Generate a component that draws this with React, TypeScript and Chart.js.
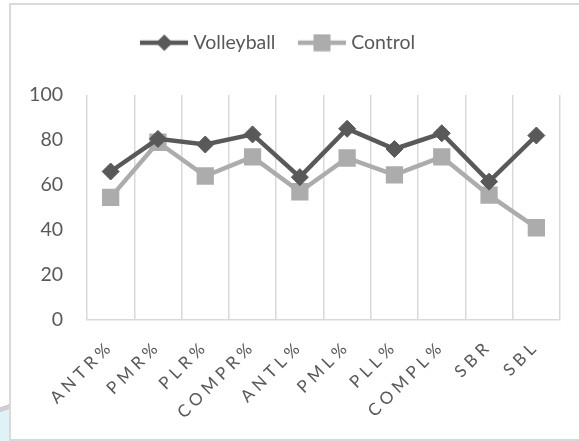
import React, { useEffect, useRef } from 'react';
import { Chart, registerables, CategoryScale } from 'chart.js';

Chart.register(...registerables);

const LETTER_SPACING = '4.5px';

class SpacedCategoryScale extends CategoryScale {
  static id = 'spacedCategory';
  static defaults = (CategoryScale as any).defaults;
  drawLabels(chartArea: any) {
    const ctx: any = (this as any).ctx;
    const prev = ctx.letterSpacing;
    ctx.letterSpacing = LETTER_SPACING;
    // @ts-ignore
    super.drawLabels(chartArea);
    ctx.letterSpacing = prev || '0px';
  }
}
Chart.register(SpacedCategoryScale as any);

const categories = ['ANTR%', 'PMR%', 'PLR%', 'COMPR%', 'ANTL%', 'PML%', 'PLL%', 'COMPL%', 'SBR', 'SBL'];
const volleyball = [66, 80.5, 78, 82.5, 63.5, 85, 76, 83, 61.5, 82];
const control = [54.5, 79, 64, 72.5, 57, 72, 64.5, 72.5, 55.5, 41];
const yTicks = [0, 20, 40, 60, 80, 100];

const VB_COLOR = '#595959';
const CT_COLOR = '#acacac';
const FONT = 'Lato';

function makeLegendIcon(color: string, marker: 'diamond' | 'square') {
  const c = document.createElement('canvas');
  c.width = 48;
  c.height = 18;
  const g = c.getContext('2d')!;
  g.strokeStyle = color;
  g.fillStyle = color;
  g.lineWidth = 4.5;
  g.beginPath();
  g.moveTo(0, 9);
  g.lineTo(48, 9);
  g.stroke();
  if (marker === 'diamond') {
    g.beginPath();
    g.moveTo(24, 0.7);
    g.lineTo(32.3, 9);
    g.lineTo(24, 17.3);
    g.lineTo(15.7, 9);
    g.closePath();
    g.fill();
  } else {
    g.fillRect(15.5, 0.5, 17, 17);
  }
  return c;
}

export default function App() {
  const ref = useRef<HTMLCanvasElement>(null);

  useEffect(() => {
    if (!ref.current) return;
    const icons = [makeLegendIcon(VB_COLOR, 'diamond'), makeLegendIcon(CT_COLOR, 'square')];
    const chart = new Chart(ref.current, {
      type: 'line',
      data: {
        labels: categories,
        datasets: [
          {
            label: 'Volleyball',
            data: volleyball,
            borderColor: VB_COLOR,
            backgroundColor: VB_COLOR,
            borderWidth: 4.5,
            pointStyle: 'rectRot',
            pointRadius: 8.5,
            pointBorderWidth: 1,
            pointBackgroundColor: VB_COLOR,
            pointBorderColor: VB_COLOR,
            tension: 0,
          },
          {
            label: 'Control',
            data: control,
            borderColor: CT_COLOR,
            backgroundColor: CT_COLOR,
            borderWidth: 4.5,
            pointStyle: 'rect',
            pointRadius: 12.2,
            pointBorderWidth: 0,
            pointBackgroundColor: CT_COLOR,
            pointBorderColor: CT_COLOR,
            tension: 0,
          },
        ],
      },
      options: {
        responsive: false,
        animation: false,
        layout: { padding: { left: 0, right: 19, top: 6, bottom: 0 } },
        plugins: {
          tooltip: { enabled: false },
          title: {
            display: true,
            text: ' ',
            weight: 500,
            font: { size: 1, lineHeight: 1 },
            padding: { top: 31.5, bottom: 0 },
          } as any,
          legend: {
            display: true,
            position: 'top',
            labels: {
              usePointStyle: true,
              pointStyleWidth: 39,
              padding: 27,
              color: VB_COLOR,
              font: { family: FONT, size: 19.5 },
              generateLabels: () =>
                ['Volleyball', 'Control'].map((t, i) => ({
                  text: t,
                  pointStyle: icons[i] as any,
                  datasetIndex: i,
                  hidden: false,
                  fillStyle: 'transparent',
                  strokeStyle: 'transparent',
                  lineWidth: 0,
                  fontColor: VB_COLOR,
                })),
            },
          },
        },
        scales: {
          x: {
            type: 'spacedCategory' as any,
            offset: true,
            grid: {
              display: true,
              offset: true,
              color: '#d9d9d9',
              lineWidth: 1.5,
              drawTicks: false,
            },
            border: { display: true, color: '#d9d9d9', width: 1.5 },
            ticks: {
              color: VB_COLOR,
              font: { family: FONT, size: 17 },
              minRotation: 45,
              maxRotation: 45,
              padding: 16,
              autoSkip: false,
            },
            afterFit: (s: any) => {
              s.height = 121;
            },
          },
          y: {
            min: 0,
            max: 100,
            grid: { display: false, drawTicks: false },
            border: { display: false },
            afterBuildTicks: (s: any) => {
              s.ticks = yTicks.map((v) => ({ value: v }));
            },
            ticks: {
              color: VB_COLOR,
              font: { family: FONT, size: 19.5 },
              padding: 24,
            },
            afterFit: (s: any) => {
              s.width = 87;
            },
          },
        },
      },
    } as any);
    return () => chart.destroy();
  }, []);

  return (
    <div style={{ position: 'fixed', left: 0, top: 0, width: 579, height: 441, overflow: 'hidden', background: '#fff' }}>
      <div
        style={{
          position: 'absolute',
          left: 0,
          top: 395,
          width: 10,
          height: 46,
          background: 'linear-gradient(160deg, #ffffff 0%, #ffffff 25%, #cfcfcf 25%, #cfcfcf 35%, #dff2f7 35%, #dff2f7 100%)',
        }}
      />
      <div
        style={{
          position: 'absolute',
          left: 9,
          top: 3,
          width: 700,
          height: 438,
          boxSizing: 'border-box',
          border: '2px solid #d9d9d9',
        }}
      />
      <canvas ref={ref} width={579} height={441} style={{ position: 'absolute', left: 0, top: 0, width: 579, height: 441 }} />
    </div>
  );
}
